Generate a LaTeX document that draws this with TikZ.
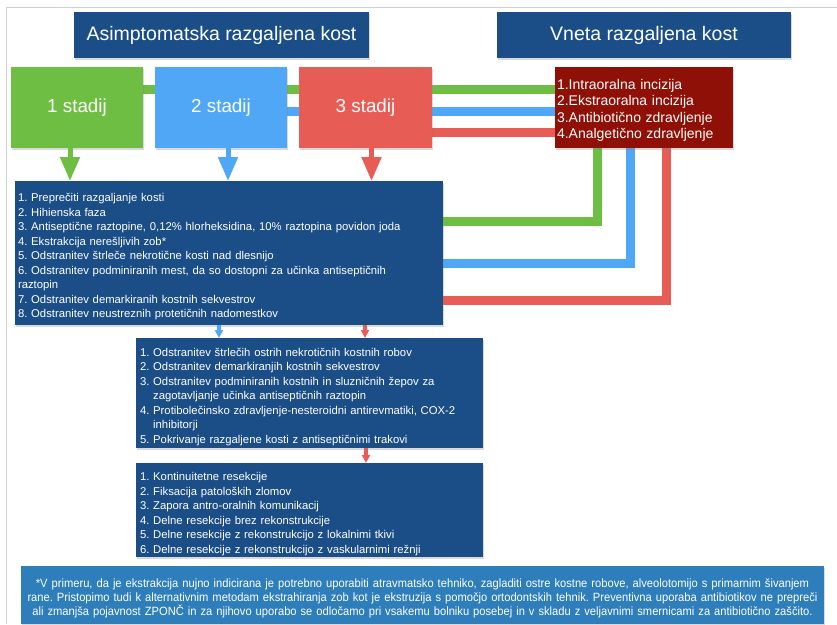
\documentclass[tikz,border=0pt]{standalone}
\usepackage{fontspec}
\setmainfont{Liberation Sans}
\newfontfamily\narrowfont[FakeStretch=0.93]{Liberation Sans}
\frenchspacing
\usetikzlibrary{positioning, arrows.meta, backgrounds, shadows}
\definecolor{boxblue}{RGB}{27,78,135}
\definecolor{stgreen}{RGB}{110,190,68}
\definecolor{stblue}{RGB}{80,167,245}
\definecolor{stred}{RGB}{232,92,86}
\definecolor{darkred}{RGB}{142,16,6}
\definecolor{noteblue}{RGB}{45,126,186}
\definecolor{framegray}{RGB}{208,208,208}
\tikzset{
	node distance=12pt,
	softshadow/.style={drop shadow={opacity=.3, shadow xshift=1pt, shadow yshift=-1.5pt}},
	title/.style={fill=boxblue, text=white, anchor=north west, outer sep=0pt,
		minimum width=295pt, minimum height=46pt, softshadow,
		font=\fontsize{19.5}{22}\selectfont},
	stage/.style={text=white, outer sep=0pt, inner sep=0pt,
		minimum width=132pt, minimum height=81pt, softshadow,
		font=\fontsize{18.8}{22}\selectfont},
	listbox/.style={fill=boxblue, text=white, anchor=north west, outer sep=0pt,
		align=left, inner ysep=0pt, inner xsep=3pt, softshadow,
		topstrut=16pt,
		font=\fontsize{11.3}{14.5}\selectfont},
	topstrut/.style={execute at begin node={\rule{0pt}{#1}}},
	link/.style={line width=9pt},
	bigarrow/.style={line width=5pt, -{Triangle[width=19pt,length=24pt]}},
	smallarrow/.style={line width=3.5pt, -{Triangle[width=8pt,length=8pt]}},
}

\begin{document}
\begin{tikzpicture}[x=1pt, y=-1pt]
	\useasboundingbox (0,0) rectangle (837,624);
	\draw[framegray] (6,7) -- (837,7);
	\draw[framegray] (6,7) -- (6,624);
	
	% headings
	\node[title] (asym) at (74,12) {Asimptomatska razgaljena kost};
	\node[title, minimum width=294pt] (vneta) at (497,12) {Vneta razgaljena kost};
	
	% stages
	\node[stage, fill=stgreen, anchor=north west] (st1) at (11,67) {1 stadij};
	\node[stage, fill=stblue, right=of st1] (st2) {2 stadij};
	\node[stage, fill=stred, right=of st2, minimum width=133pt] (st3) {3 stadij};
	\node[listbox, fill=darkred, inner xsep=2pt, text width=174pt, minimum height=81pt,
		font=\fontsize{14}{16.3}\selectfont] (treat) at (555,67)
		{1.Intraoralna incizija\\2.Ekstraoralna incizija\\3.Antibiotično zdravljenje\\4.Analgetično zdravljenje};
	
	% treatment lists
	\node[listbox, text width=422pt, minimum height=144pt] (phase1) at (15,181)
		{1. Preprečiti razgaljanje kosti\\
		2. Hihienska faza\\
		3. Antiseptične raztopine, 0,12\% hlorheksidina, 10\% raztopina povidon joda\\
		4. Ekstrakcija nerešljivih zob*\\
		5. Odstranitev štrleče nekrotične kosti nad dlesnijo\\
		6. Odstranitev podminiranih mest, da so dostopni za učinka antiseptičnih\\
		raztopin\\
		7. Odstranitev demarkiranih kostnih sekvestrov\\
		8. Odstranitev neustreznih protetičnih nadomestkov};
	\node[listbox, inner xsep=4pt, text width=339pt, minimum height=110pt] (phase2) at (136,338)
		{1. Odstranitev štrlečih ostrih nekrotičnih kostnih robov\\
		2. Odstranitev demarkiranjih kostnih sekvestrov\\
		3. Odstranitev podminiranih kostnih in sluzničnih žepov za\\
		\phantom{3. }zagotavljanje učinka antiseptičnih raztopin\\
		4. Protibolečinsko zdravljenje-nesteroidni antirevmatiki, COX-2\\
		\phantom{4. }inhibitorji\\
		5. Pokrivanje razgaljene kosti z antiseptičnimi trakovi};
	\node[listbox, inner xsep=4pt, text width=339pt, minimum height=94pt] (phase3) at (136,463)
		{1. Kontinuitetne resekcije\\
		2. Fiksacija patoloških zlomov\\
		3. Zapora antro-oralnih komunikacij\\
		4. Delne resekcije brez rekonstrukcije\\
		5. Delne resekcije z rekonstrukcijo z lokalnimi tkivi\\
		6. Delne resekcije z rekonstrukcijo z vaskularnimi režnji};
	
	% footnote
	\node[listbox, fill=noteblue, align=center, text width=797pt, minimum height=58pt,
		topstrut=12pt, font=\narrowfont\fontsize{12}{14}\selectfont] (note) at (21,566)
		{*V primeru, da je ekstrakcija nujno indicirana je potrebno uporabiti atravmatsko tehniko, zagladiti ostre kostne robove, alveolotomijo s primarnim šivanjem\\
		rane. Pristopimo tudi k alternativnim metodam ekstrahiranja zob kot je ekstruzija s pomočjo ortodontskih tehnik. Preventivna uporaba antibiotikov ne prepreči\\
		ali zmanjša pojavnost ZPONČ in za njihovo uporabo se odločamo pri vsakemu bolniku posebej in v skladu z veljavnimi smernicami za antibiotično zaščito.};
	
	% links to the inflamed case, behind the boxes
	\begin{pgfonlayer}{background}
		\draw[link, stgreen] (st1.east |- 0,89) -- (treat.west |- 0,89);
		\draw[link, stblue] (st2.east |- 0,111) -- (treat.west |- 0,111);
		\draw[link, stred] (st3.east |- 0,132) -- (treat.west |- 0,132);
		\draw[link, stgreen] (treat.south -| 597,0) |- (phase1.east |- 0,221);
		\draw[link, stblue] (treat.south -| 630,0) |- (phase1.east |- 0,263);
		\draw[link, stred] (treat.south -| 666,0) |- (phase1.east |- 0,300);
	\end{pgfonlayer}
	
	% arrows down
	\draw[bigarrow, stgreen] ([xshift=-7pt]st1.south) -- ([xshift=-7pt]st1.south |- phase1.north);
	\draw[bigarrow, stblue] ([xshift=7pt]st2.south) -- ([xshift=7pt]st2.south |- phase1.north);
	\draw[bigarrow, stred] ([xshift=6pt]st3.south) -- ([xshift=6pt]st3.south |- phase1.north);
	\draw[smallarrow, stblue] (phase1.south -| 219,0) -- (phase2.north -| 219,0);
	\draw[smallarrow, stred] (phase1.south -| 365,0) -- (phase2.north -| 365,0);
	\draw[smallarrow, stred] (phase2.south -| 366,0) -- (phase3.north -| 366,0);
	
\end{tikzpicture}
\end{document}
